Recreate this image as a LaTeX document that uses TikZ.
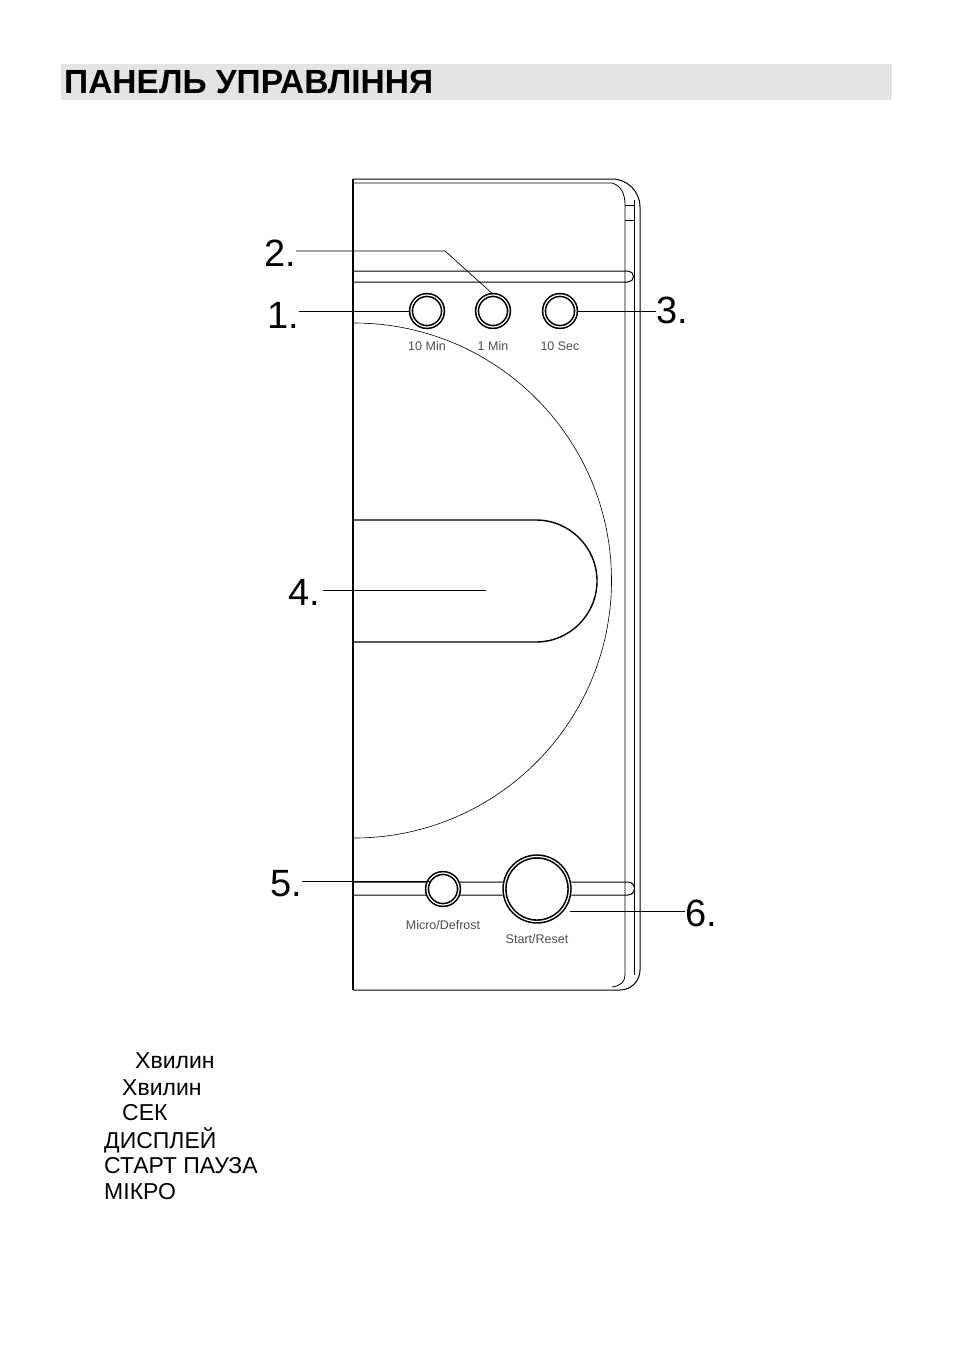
\documentclass[tikz,border=0pt]{standalone}
\usepackage{fontspec}
\setmainfont{Liberation Sans}
\setsansfont{Liberation Sans}
\usetikzlibrary{calc}
\definecolor{Head}{RGB}{228,228,228}
\tikzset{
  btn/.style={circle, draw, line width=1.6pt, double=white, double distance=1.2pt, inner sep=0pt},
  num/.style={font=\fontsize{38}{40}\selectfont, inner sep=0pt},
  btncap/.style={font=\fontsize{12.5}{14}\selectfont\sffamily, text=black!70, inner sep=0pt},
  lst/.style={font=\fontsize{23}{25}\selectfont, anchor=west, inner sep=0pt},
  lead/.style={line width=0.7pt}
}
\begin{document}
\begin{tikzpicture}[x=1pt,y=-1pt]
    %% Background
    \useasboundingbox (0,0) rectangle (954,1352);

    %% Header
    \fill[Head] (61,64) rectangle (892,100);
    \node[anchor=west, inner sep=0pt, font=\fontsize{33.5}{35}\selectfont\bfseries] (head) at (64,82) {ПАНЕЛЬ УПРАВЛІННЯ};

    %% Panel outline
    \draw[line width=2pt] (353,179) to (353,990);
    \draw[line width=1pt] (353,179) to (612,179) arc[start angle=-90, end angle=0, radius=28] to (640,970) arc[start angle=0, end angle=90, radius=20] to (353,990);
    \draw[line width=0.8pt] (353,183) to (612,183) .. controls (622,186) and (625,195) .. (625,205) to (625,975) .. controls (625,982) and (620,986) .. (612,987);
    \draw[line width=0.8pt] (625,205) to (634,205) (625,220) to (634,220);
    \draw[line width=0.8pt] (634,200) to (634,975);

    %% Strips
    \draw[line width=1pt] (354,271) to (628,271) arc[start angle=-90, end angle=90, radius=5.5] to (354,282);
    \draw[line width=1pt] (354,882) to (628,882) arc[start angle=-90, end angle=90, radius=6.5] to (354,895);

    %% Arc and display
    \draw[line width=0.6pt] (354,323) arc[start angle=-90, end angle=90, radius=257.5];
    \fill[white] (354,520) to (536,520) arc[start angle=-90, end angle=90, radius=61] to (354,642) -- cycle;
    \draw[line width=1.4pt] (354,520) to (536,520) arc[start angle=-90, end angle=90, radius=61] to (354,642);
    \coordinate (disp) at (486,590);

    %% Buttons
    \node[btn, minimum size=32pt] (b10m) at (427,311) {};
    \node[btn, minimum size=32pt] (b1m) at (493,311) {};
    \node[btn, minimum size=32pt] (b10s) at (560,311) {};
    \fill[white] (443,889) circle (16);
    \node[btn, minimum size=32pt] (bmic) at (443,889) {};
    \fill[white] (537,889) circle (35);
    \node[btn, minimum size=65pt] (bstart) at (537,889) {};

    \node[btncap] (l10m) at (427,346) {10 Min};
    \node[btncap] (l1m) at (493,346) {1 Min};
    \node[btncap] (l10s) at (560,346) {10 Sec};
    \node[btncap] (lmic) at (443,925) {Micro/Defrost};
    \node[btncap] (lstart) at (537,939) {Start/Reset};

    %% Callouts
    \node[num, anchor=east] (n1) at (299,315) {1.};
    \node[num, anchor=east] (n2) at (296,253) {2.};
    \node[num, anchor=west] (n3) at (656,310) {3.};
    \node[num, anchor=east] (n4) at (320,592) {4.};
    \node[num, anchor=east] (n5) at (302,884) {5.};
    \node[num, anchor=west] (n6) at (685,913) {6.};

    \draw[lead] (n1.east |- b10m) to (b10m.west);
    \draw[lead] (296,251) to (445,251) to (b1m.north);
    \draw[lead] (b10s.east) to (n3.west |- b10s);
    \draw[lead] (n4.east |- disp) ++(3,0) to (disp);
    \draw[lead] (302,881) to (bmic.north west |- 0,881);
    \draw[lead] (570,911) to (n6.west |- 0,911);

    %% Legend
    \node[lst] (t1) at (135,1061) {Хвилин};
    \node[lst] (t2) at (122,1088) {Хвилин};
    \node[lst] (t3) at (122,1113) {СЕК};
    \node[lst] (t4) at (104,1140) {ДИСПЛЕЙ};
    \node[lst] (t5) at (104,1166) {СТАРТ ПАУЗА};
    \node[lst] (t6) at (104,1192) {МІКРО};
\end{tikzpicture}
\end{document}
